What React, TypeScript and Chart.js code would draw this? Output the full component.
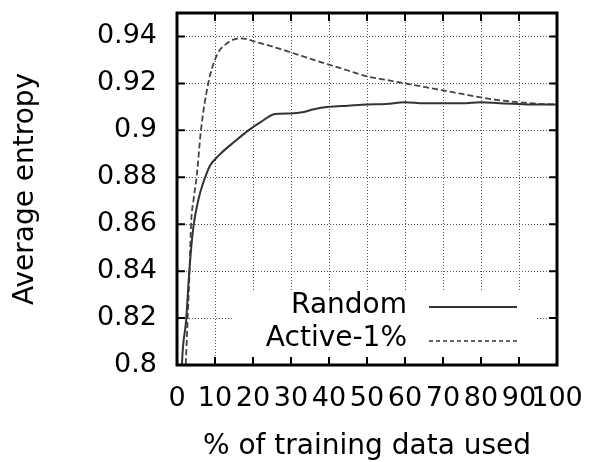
import { useEffect, useRef } from "react";
import { Chart, registerables } from "chart.js";
Chart.register(...registerables);

const seriesNames = ["Random", "Active-1%"];
const xTitle = "% of training data used";
const yTitle = "Average entropy";

const randomX = [0, 1.3, 2.4, 3.2, 4.1, 4.6, 5.3, 6.1, 7.2, 8.7, 10.2, 11.8, 15, 18.8, 22, 25.8, 30, 33, 36, 40, 45, 50, 55, 60, 65, 70, 75, 80, 85, 90, 95, 100];
const randomY = [0.72, 0.8, 0.819, 0.839, 0.856, 0.862, 0.868, 0.8735, 0.879, 0.885, 0.888, 0.8906, 0.895, 0.9, 0.9035, 0.907, 0.9072, 0.9077, 0.909, 0.91, 0.9105, 0.911, 0.9112, 0.912, 0.9115, 0.9115, 0.9115, 0.912, 0.9115, 0.9112, 0.911, 0.911];

const activeX = [0, 2.3, 2.8, 3.3, 3.7, 4.4, 5.2, 6.3, 8.3, 10.5, 13.1, 16.6, 21.4, 26.7, 32.8, 40, 45, 50, 55, 60, 65, 70, 75, 80, 85, 90, 95, 100];
const activeY = [0.72, 0.8, 0.82, 0.84, 0.86, 0.871, 0.8806, 0.9, 0.9206, 0.932, 0.937, 0.9392, 0.9374, 0.9349, 0.9317, 0.928, 0.9255, 0.923, 0.9215, 0.92, 0.9185, 0.917, 0.9155, 0.914, 0.9128, 0.912, 0.9113, 0.911];

const xTicks = [0, 10, 20, 30, 40, 50, 60, 70, 80, 90, 100];
const yTicks = [0.8, 0.82, 0.84, 0.86, 0.88, 0.9, 0.92, 0.94];

const FONT = '"DejaVu Sans", sans-serif';

const framePlugin = {
  id: "frame",
  afterDraw(chart: any) {
    const { ctx, chartArea: a, scales } = chart;
    const xs = scales.x;
    const ys = scales.y;
    ctx.save();
    // legend box
    const lx0 = a.left + 56;
    const lx1 = a.right - 22;
    ctx.fillStyle = "#fff";
    ctx.fillRect(lx0, a.bottom - 73, lx1 - lx0, 73);
    ctx.font = "28px " + FONT;
    ctx.textAlign = "right";
    ctx.textBaseline = "middle";
    ctx.fillStyle = "#000";
    const rows = [a.bottom - 59, a.bottom - 26];
    const tx = a.right - 150;
    ctx.fillText(seriesNames[0], tx, rows[0]);
    ctx.fillText(seriesNames[1], tx, rows[1]);
    ctx.strokeStyle = "#333";
    ctx.lineWidth = 2;
    ctx.beginPath();
    ctx.moveTo(a.right - 128, rows[0] + 1);
    ctx.lineTo(a.right - 40, rows[0] + 1);
    ctx.stroke();
    ctx.lineWidth = 1.5;
    ctx.setLineDash([4, 3]);
    ctx.beginPath();
    ctx.moveTo(a.right - 128, rows[1] + 2);
    ctx.lineTo(a.right - 40, rows[1] + 2);
    ctx.stroke();
    ctx.setLineDash([]);
    // inward ticks
    ctx.strokeStyle = "#000";
    ctx.lineWidth = 2;
    ctx.beginPath();
    xTicks.forEach((v) => {
      const px = xs.getPixelForValue(v);
      ctx.moveTo(px, a.bottom);
      ctx.lineTo(px, a.bottom - 8);
      ctx.moveTo(px, a.top);
      ctx.lineTo(px, a.top + 8);
    });
    yTicks.forEach((v) => {
      const py = ys.getPixelForValue(v);
      ctx.moveTo(a.left, py);
      ctx.lineTo(a.left + 8, py);
      ctx.moveTo(a.right, py);
      ctx.lineTo(a.right - 8, py);
    });
    ctx.stroke();
    ctx.lineWidth = 3;
    ctx.strokeRect(a.left, a.top, a.right - a.left, a.bottom - a.top);
    ctx.restore();
  },
};

export default function App() {
  const ref = useRef<HTMLCanvasElement>(null);
  useEffect(() => {
    const chart = new Chart(ref.current!, {
      type: "line",
      data: {
        datasets: [
          {
            label: seriesNames[0],
            data: randomX.map((x, i) => ({ x, y: randomY[i] })),
            borderColor: "#333",
            borderWidth: 2,
            pointRadius: 0,
            cubicInterpolationMode: "monotone",
          },
          {
            label: seriesNames[1],
            data: activeX.map((x, i) => ({ x, y: activeY[i] })),
            borderColor: "#444",
            borderWidth: 1.8,
            borderDash: [6, 3],
            pointRadius: 0,
            cubicInterpolationMode: "monotone",
          },
        ],
      },
      options: {
        animation: false,
        responsive: false,
        layout: { padding: { left: 0, top: 13, right: 33, bottom: 0 } },
        plugins: { legend: { display: false }, tooltip: { enabled: false } },
        scales: {
          x: {
            type: "linear",
            min: 0,
            max: 100,
            afterBuildTicks: (s: any) => {
              s.ticks = xTicks.map((v) => ({ value: v }));
            },
            afterFit: (s: any) => {
              s.height = 97;
              s.paddingLeft = 0;
              s.paddingRight = 0;
              s.paddingTop = 0;
              s.paddingBottom = 0;
            },
            grid: { color: "#555", lineWidth: 1, drawTicks: false },
            border: { display: false, dash: [1, 2] },
            ticks: {
              autoSkip: false,
              maxRotation: 0,
              minRotation: 0,
              padding: 18,
              color: "#000",
              font: { family: FONT, size: 27 },
              callback: (v: any) => String(v),
            },
            title: {
              display: true,
              text: xTitle,
              color: "#000",
              font: { family: FONT, size: 28, lineHeight: 1.0 },
              padding: { top: 0, bottom: 1 },
            },
          },
          y: {
            type: "linear",
            min: 0.8,
            max: 0.95,
            afterBuildTicks: (s: any) => {
              s.ticks = yTicks.map((v) => ({ value: v }));
            },
            afterFit: (s: any) => {
              s.width = 177;
              s.paddingLeft = 0;
              s.paddingRight = 0;
              s.paddingTop = 0;
              s.paddingBottom = 0;
            },
            grid: { color: "#555", lineWidth: 1, drawTicks: false },
            border: { display: false, dash: [1, 2] },
            ticks: {
              padding: 20,
              color: "#000",
              font: { family: FONT, size: 27 },
              callback: (v: any) => String(+Number(v).toFixed(2)),
            },
            title: {
              display: true,
              text: yTitle,
              color: "#000",
              font: { family: FONT, size: 28, lineHeight: 1.2 },
              padding: { top: 9, bottom: 0 },
            },
          },
        },
      },
      plugins: [framePlugin],
    });
    return () => chart.destroy();
  }, []);
  return (
    <div style={{ position: "absolute", left: 0, top: 0, width: 590, height: 462, background: "#fff" }}>
      <canvas ref={ref} width={590} height={462} />
    </div>
  );
}
